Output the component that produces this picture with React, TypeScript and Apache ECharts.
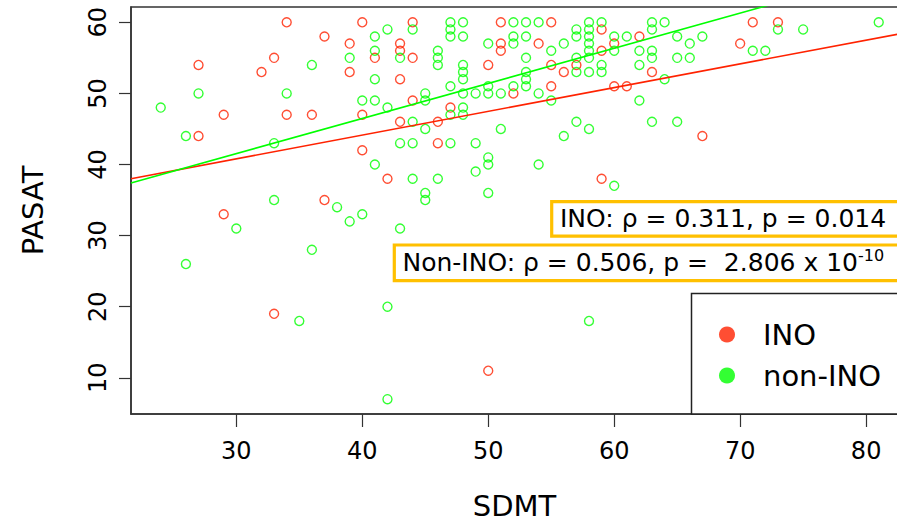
import React, { useEffect, useRef } from "react";
import * as echarts from "echarts";

// SDMT (x) vs PASAT (y)
const inoPoints: [number, number][] = [
  [34, 60], [40, 60], [37, 58], [39, 57], [41, 55], [33, 55], [27, 54], [32, 53], [39, 53],
  [29, 47], [34, 47], [36, 47], [40, 47], [27, 44], [40, 42], [37, 35], [29, 33], [42, 38],
  [46, 43], [33, 19], [50, 11], [59, 38], [67, 44], [60, 51], [61, 51], [63, 53], [62, 58],
  [60, 57], [59, 59], [59, 56], [71, 60], [73, 60], [70, 57], [44, 60], [51, 60], [55, 60],
  [43, 57], [43, 56], [44, 55], [51, 57], [51, 56], [54, 57], [50, 54], [43, 52], [55, 54],
  [56, 53], [57, 54], [55, 51], [52, 50], [44, 49], [47, 48], [43, 46], [46, 46],
];

const nonInoPoints: [number, number][] = [
  [41, 58], [41, 56], [39, 55], [36, 54], [41, 52], [27, 50], [34, 50], [40, 49], [41, 49],
  [24, 48], [26, 44], [33, 43], [41, 40], [33, 35], [38, 34], [40, 33], [30, 31], [39, 32],
  [43, 31], [45, 35], [45, 36], [36, 28], [26, 26], [35, 18], [42, 20], [42, 7], [58, 18],
  [50, 36], [44, 38], [46, 38], [43, 43], [44, 43], [47, 43], [49, 43], [50, 41], [50, 40],
  [49, 39], [54, 40], [60, 37], [57, 46], [58, 45], [56, 44], [63, 46], [65, 46], [62, 49],
  [64, 52], [62, 54], [65, 55], [66, 55], [63, 56], [63, 55], [62, 56], [66, 57], [67, 58],
  [65, 58], [63, 60], [64, 60], [63, 59], [61, 58], [60, 58], [60, 56], [73, 59], [75, 59],
  [81, 60], [71, 56], [72, 56], [42, 59], [44, 59], [47, 60], [47, 59], [47, 58], [48, 60],
  [48, 58], [52, 60], [53, 60], [54, 60], [43, 55], [52, 58], [52, 57], [53, 58], [50, 57],
  [55, 56], [46, 56], [46, 55], [46, 54], [53, 55], [48, 54], [48, 53], [48, 52], [53, 53],
  [53, 52], [53, 51], [47, 51], [50, 51], [50, 50], [52, 51], [45, 50], [45, 49], [48, 50],
  [49, 50], [51, 50], [54, 50], [42, 48], [47, 47], [48, 48], [48, 47], [44, 46], [45, 45],
  [51, 45], [56, 57], [57, 59], [57, 58], [58, 60], [58, 59], [58, 58], [58, 57], [58, 56],
  [58, 55], [59, 60], [59, 54], [59, 53], [58, 53], [57, 55], [57, 53], [55, 49],
];

// regression lines (intercept, slope)
const inoFit = { intercept: 30.77, slope: 0.334 };
const nonInoFit = { intercept: 26.71, slope: 0.494 };

const xTicks = [30, 40, 50, 60, 70, 80];
const yTicks = [10, 20, 30, 40, 50, 60];

const X_MIN = 21.64;
const X_MAX = 82.53;
const Y_MIN = 4.91;
const Y_MAX = 62.15;

const RED = "#ff2200";
const GREEN = "#00ff00";
const ORANGE = "#ffc000";
const FONT = "DejaVu Sans";

const fitLine = (f: { intercept: number; slope: number }) => [
  [X_MIN, f.intercept + f.slope * X_MIN],
  [X_MAX, f.intercept + f.slope * X_MAX],
];

export default function App() {
  const ref = useRef<HTMLDivElement>(null);

  useEffect(() => {
    if (!ref.current) return;
    const chart = echarts.init(ref.current, undefined, { renderer: "svg" });
    chart.setOption({
      animation: false,
      backgroundColor: "#fff",
      textStyle: { fontFamily: FONT },
      grid: {
        left: 131,
        top: 7,
        width: 767,
        height: 407,
        show: true,
        borderColor: "#333",
        borderWidth: 1.5,
        containLabel: false,
        outerBoundsMode: "none",
      },
      xAxis: {
        type: "value",
        min: X_MIN,
        max: X_MAX,
        name: "SDMT",
        nameLocation: "middle",
        nameGap: 77,
        nameTextStyle: { fontSize: 29, color: "#000", fontFamily: FONT },
        axisLine: { show: true, onZero: false, lineStyle: { color: "#333", width: 1.5 } },
        axisTick: { show: true, length: 13, customValues: xTicks, lineStyle: { color: "#333", width: 1.2 } },
        axisLabel: { customValues: xTicks, fontSize: 24, margin: 25, color: "#000", fontFamily: FONT },
        splitLine: { show: false },
      },
      yAxis: {
        type: "value",
        min: Y_MIN,
        max: Y_MAX,
        name: "PASAT",
        nameLocation: "middle",
        nameGap: 84,
        nameTextStyle: { fontSize: 29, color: "#000", fontFamily: FONT },
        axisLine: { show: true, onZero: false, lineStyle: { color: "#333", width: 1.5 } },
        axisTick: { show: true, length: 12, customValues: yTicks, lineStyle: { color: "#333", width: 1.2 } },
        axisLabel: { customValues: yTicks, rotate: 90, fontSize: 24, margin: 21, color: "#000", fontFamily: FONT },
        splitLine: { show: false },
      },
      legend: {
        data: [
          { name: "INO", icon: "circle", itemStyle: { color: RED, borderWidth: 0 } },
          { name: "non-INO", icon: "circle", itemStyle: { color: GREEN, borderWidth: 0 } },
        ],
        orient: "vertical",
        left: 714,
        top: 315,
        itemWidth: 16,
        itemHeight: 16,
        itemGap: 12,
        selectedMode: false,
        z: 6,
        textStyle: { fontSize: 29, color: "#000", fontFamily: FONT, padding: [0, 0, 0, 23] },
      },
      series: [
        {
          type: "scatter",
          name: "INO",
          data: inoPoints,
          symbol: "circle",
          symbolSize: 9,
          itemStyle: { color: "rgba(0,0,0,0)", borderColor: RED, borderWidth: 1.4 },
          z: 2,
        },
        {
          type: "scatter",
          name: "non-INO",
          data: nonInoPoints,
          symbol: "circle",
          symbolSize: 9,
          itemStyle: { color: "rgba(0,0,0,0)", borderColor: GREEN, borderWidth: 1.4 },
          z: 2,
        },
        {
          type: "line",
          name: "INO fit",
          data: fitLine(inoFit),
          symbol: "none",
          clip: true,
          silent: true,
          lineStyle: { color: RED, width: 1.6 },
          z: 3,
        },
        {
          type: "line",
          name: "non-INO fit",
          data: fitLine(nonInoFit),
          symbol: "none",
          clip: true,
          silent: true,
          lineStyle: { color: GREEN, width: 1.6 },
          z: 3,
        },
      ],
      graphic: [
        {
          type: "rect",
          z: 5,
          shape: { x: 691.5, y: 293.5, width: 300, height: 120.5 },
          style: { fill: "#fff", stroke: "#222", lineWidth: 1.5 },
        },
        {
          type: "rect",
          z: 10,
          shape: { x: 551.7, y: 201.7, width: 400, height: 34.5 },
          style: { fill: "#fff", stroke: ORANGE, lineWidth: 3.2 },
        },
        {
          type: "text",
          z: 11,
          x: 560,
          y: 203.5,
          style: {
            text: "INO: ρ = 0.311, p = 0.014",
            fontSize: 25,
            fontFamily: FONT,
            fill: "#000",
            lineHeight: 30,
            verticalAlign: "top",
          },
        },
        {
          type: "rect",
          z: 10,
          shape: { x: 394.3, y: 245, width: 600, height: 35.7 },
          style: { fill: "#fff", stroke: ORANGE, lineWidth: 3.2 },
        },
        {
          type: "text",
          z: 11,
          x: 402.5,
          y: 247.5,
          style: {
            text: "{a|Non-INO: ρ = 0.506, p =  2.806 x 10}{s|-10}",
            fill: "#000",
            verticalAlign: "top",
            rich: {
              a: { fontSize: 25, fontFamily: FONT, fill: "#000", lineHeight: 30 },
              s: { fontSize: 16, fontFamily: FONT, fill: "#000", lineHeight: 18, verticalAlign: "top" },
            },
          },
        },
      ],
    });
    return () => chart.dispose();
  }, []);

  return (
    <div
      style={{
        position: "fixed",
        left: 0,
        top: 0,
        width: 897,
        height: 524,
        overflow: "hidden",
        background: "#fff",
      }}
    >
      <div ref={ref} style={{ width: 910, height: 524 }} />
    </div>
  );
}
